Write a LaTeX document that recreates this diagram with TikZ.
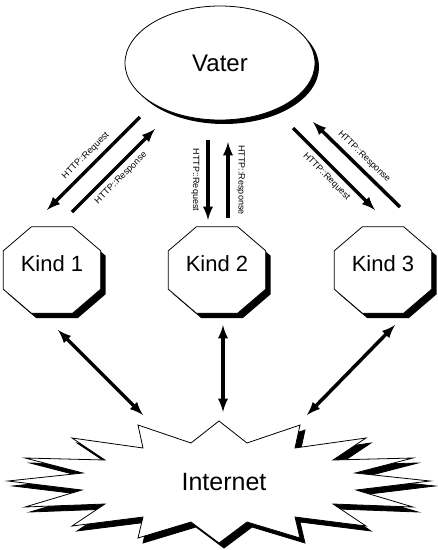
\documentclass[tikz,border=0pt]{standalone}
\usepackage{fontspec}
\setmainfont{Liberation Sans}
\usetikzlibrary{arrows,shapes.geometric,shadows,backgrounds}

\tikzset{
  msg/.style={line width=3.5pt,-latex},
  link/.style={line width=3.5pt,latex-latex},
  lbl/.style={font=\fontsize{9}{10}\selectfont,inner sep=5pt},
  kind/.style={minimum width=97pt,minimum height=86pt,inner sep=0pt,text depth=12pt,font=\fontsize{22}{26}\selectfont},
}

\newcommand{\octa}[2]{([shift={(28+#2,#2)}]#1.north west) -- ([shift={(-28+#2,#2)}]#1.north east)
  -- ([shift={(#2,24+#2)}]#1.north east) -- ([shift={(#2,-24+#2)}]#1.south east)
  -- ([shift={(-28+#2,#2)}]#1.south east) -- ([shift={(28+#2,#2)}]#1.south west)
  -- ([shift={(#2,-24+#2)}]#1.south west) -- ([shift={(#2,24+#2)}]#1.north west) -- cycle}

\begin{document}
\begin{tikzpicture}[x=1pt,y=-1pt]
\useasboundingbox (0,0) rectangle (438,550);

\node [ellipse,draw,fill=white,line width=0.8pt,minimum width=190pt,minimum height=114pt,inner sep=0pt,
  font=\fontsize{24}{28}\selectfont,
  drop shadow={shadow xshift=4pt,shadow yshift=-4pt,fill=black,opacity=1}] (vater) at (220,63) {Vater};
\node [kind] (kind1) at (52,270) {Kind 1};
\node [kind] (kind2) at (217,270) {Kind 2};
\node [kind] (kind3) at (383,270) {Kind 3};
\node [font=\fontsize{25}{30}\selectfont] (inet) at (224,482) {Internet};

\begin{scope}[on background layer]
\foreach \k in {kind1,kind2,kind3} {
  \fill \octa{\k}{5};
  \filldraw [fill=white,line width=0.8pt] \octa{\k}{0};
}
\foreach \d/\c in {5/black,0/white}
  \filldraw [fill=\c,line width=0.8pt,shift={(\d,\d)}] (219,421) -- (247,443) -- (300,425) -- (295,448)
    -- (366,438) -- (333,460) -- (413,458) -- (355,473) -- (430,481) -- (356,490) -- (413,507)
    -- (333,504) -- (366,526) -- (295,517) -- (300,538) -- (247,522) -- (219,543) -- (191,522)
    -- (138,538) -- (143,517) -- (72,526) -- (105,504) -- (25,507) -- (82,490) -- (8,481)
    -- (83,473) -- (25,458) -- (105,460) -- (72,438) -- (143,448) -- (138,425) -- (191,443) -- cycle;
\end{scope}

\draw [msg] ([shift={(-80,54)}]vater.center) -- node [lbl,sloped,above] {HTTP::Request} ([shift={(-5,-60)}]kind1.center);
\draw [msg] ([shift={(20,-58)}]kind1.center) -- node [lbl,sloped,below] {HTTP::Response} ([shift={(-65,66)}]vater.center);
\draw [msg] ([shift={(-12,77)}]vater.center) -- node [lbl,inner sep=7pt,rotate=-90,anchor=north] {HTTP::Request} ([shift={(-9,-50)}]kind2.center);
\draw [msg] ([shift={(11,-52)}]kind2.center) -- node [lbl,inner sep=7pt,rotate=-90,anchor=south] {HTTP::Response} ([shift={(8,79)}]vater.center);
\draw [msg] ([shift={(73,65)}]vater.center) -- node [lbl,sloped,below] {HTTP::Request} ([shift={(-8,-60)}]kind3.center);
\draw [msg] ([shift={(17,-63)}]kind3.center) -- node [lbl,sloped,above] {HTTP::Response} ([shift={(93,59)}]vater.center);

\draw [link] ([shift={(6,60)}]kind1.center) -- ([shift={(-81,-67)}]inet.center);
\draw [link] ([shift={(6,55)}]kind2.center) -- ([shift={(-1,-70)}]inet.center);
\draw [link] ([shift={(12,55)}]kind3.center) -- ([shift={(83,-67)}]inet.center);
\end{tikzpicture}
\end{document}
